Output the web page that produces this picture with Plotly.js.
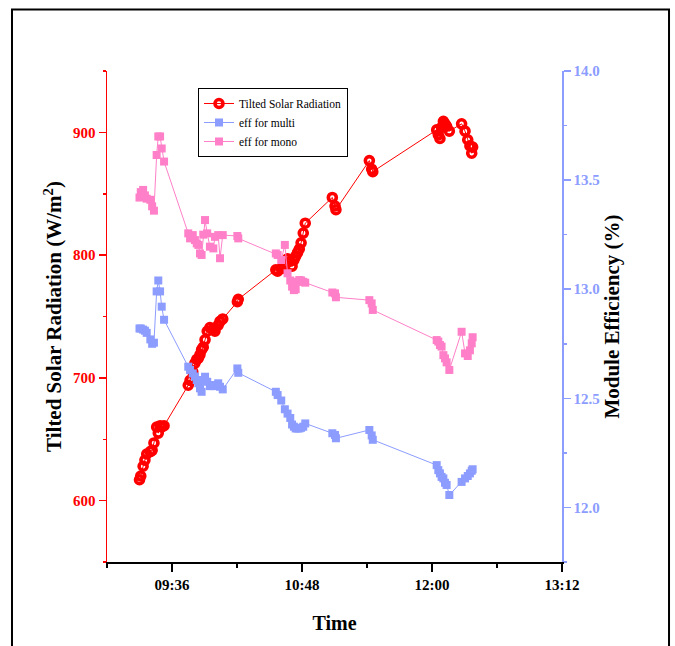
<!DOCTYPE html>
<html>
<head>
<meta charset="utf-8">
<script src="https://cdn.plot.ly/plotly-3.0.1.min.js"></script>
<style>
html,body{margin:0;padding:0;background:#fff;}
#chart{width:675px;height:646px;}
</style>
</head>
<body>
<div id="chart"></div>
<script>
// Time of each measurement (HH:MM:SS)
var times = [
  "09:18:00","09:18:42","09:20:00","09:21:00","09:22:00","09:24:00","09:25:00","09:26:00","09:27:30","09:28:24","09:29:24","09:30:18","09:31:36",
  "09:45:00","09:46:00","09:47:30","09:48:42","09:49:42","09:50:36","09:51:30","09:52:24","09:53:18","09:54:18","09:55:30","09:57:00","09:58:54","09:59:48","10:01:36","10:02:36","10:04:06",
  "10:12:12","10:12:42",
  "10:33:30","10:34:30","10:36:30","10:38:30","10:40:00","10:41:30","10:42:30","10:43:30","10:44:30","10:45:30","10:46:30","10:47:30","10:48:42","10:49:48",
  "11:04:48","11:06:18","11:06:48",
  "11:25:18","11:26:36","11:27:12",
  "12:02:36","12:03:30","12:04:24","12:05:18","12:06:18","12:07:12","12:08:06","12:09:36","12:16:24","12:18:18","12:19:48","12:21:00","12:22:00","12:22:30"
];
// Tilted solar radiation (W/m2)
var radiation = [
  617,620,628,633,638,640,641,647,660,655,661,660,661,
  694,698,705,712,715,716,719,723,725,731,738,741,740,738,743,746,748,
  762,764,
  788,787,789,792,797,795,791,796,799,802,805,810,818,826,
  847,840,837,
  877,870,868,
  902,898,895,904,909,907,905,901,907,901,894,889,883,888
];
// Module efficiency, multi-crystalline (%)
var effMulti = [
  12.82,12.82,12.815,12.81,12.80,12.77,12.75,12.755,12.99,13.04,12.99,12.92,12.86,
  12.645,12.63,12.614,12.60,12.584,12.569,12.546,12.53,12.584,12.599,12.576,12.556,12.556,12.561,12.569,12.553,12.541,
  12.637,12.617,
  12.53,12.515,12.49,12.45,12.43,12.41,12.38,12.37,12.362,12.362,12.362,12.365,12.37,12.385,
  12.34,12.332,12.317,
  12.355,12.33,12.31,
  12.194,12.171,12.156,12.14,12.133,12.113,12.103,12.057,12.117,12.133,12.144,12.156,12.168,12.175
];
// Module efficiency, mono-crystalline (%)
var effMono = [
  13.42,13.445,13.455,13.43,13.415,13.41,13.38,13.36,13.615,13.70,13.70,13.645,13.585,
  13.256,13.233,13.248,13.225,13.21,13.203,13.164,13.157,13.25,13.317,13.256,13.195,13.187,13.24,13.248,13.142,13.248,
  13.244,13.233,
  13.164,13.157,13.134,13.203,13.073,13.04,13.012,12.996,13.0,13.034,13.042,13.04,13.034,13.03,
  12.985,12.981,12.963,
  12.95,12.935,12.905,
  12.767,12.76,12.744,12.737,12.698,12.683,12.665,12.63,12.805,12.706,12.694,12.72,12.752,12.78
];
var seriesNames = ["Tilted Solar Radiation","eff for multi","eff for mono"];
var xTickStart = "09:36", xTickStepMin = 72, xMinorStepMin = 36;
var xRange = ["09:00","13:12"];
var day = "2000-01-01 ";

var RED = "#FF0000", BLUE = "#8C9CFF", PINK = "#FF80C8";
var FONT = "Liberation Serif";
var xs = times.map(function(t){return day + t;});

var traces = [
  {x: xs, y: radiation, name: seriesNames[0], type: "scatter", mode: "lines+markers",
   xaxis: "x", yaxis: "y",
   line: {color: RED, width: 1},
   marker: {symbol: "circle-open", size: 8, color: RED, line: {color: RED, width: 3.6}}},
  {x: xs, y: effMulti, name: seriesNames[1], type: "scatter", mode: "lines+markers",
   xaxis: "x", yaxis: "y2",
   line: {color: BLUE, width: 1},
   marker: {symbol: "square", size: 8, color: BLUE, line: {width: 0}}},
  {x: xs, y: effMono, name: seriesNames[2], type: "scatter", mode: "lines+markers",
   xaxis: "x", yaxis: "y2",
   line: {color: PINK, width: 1},
   marker: {symbol: "square", size: 8, color: PINK, line: {width: 0}}}
];

var minMs = 60000;
var layout = {
  width: 675, height: 646,
  margin: {l: 107, r: 113, t: 71, b: 84},
  paper_bgcolor: "#fff", plot_bgcolor: "#fff",
  showlegend: true,
  font: {family: FONT, color: "#000"},
  xaxis: {
    type: "date", range: [day + xRange[0], day + xRange[1]],
    tick0: day + xTickStart, dtick: xTickStepMin * minMs, tickformat: "%H:%M",
    ticks: "outside", ticklen: 8, tickwidth: 1.5, tickcolor: "#000",
    minor: {tick0: day + xTickStart, dtick: xMinorStepMin * minMs, ticks: "outside", ticklen: 4, tickwidth: 1.5, tickcolor: "#000", showgrid: false},
    showline: true, linecolor: "#000", linewidth: 1.5,
    showgrid: false, zeroline: false,
    tickfont: {family: FONT, size: 15, color: "#000", weight: "bold"},
    title: {text: "<b>Time</b>", font: {family: FONT, size: 20, color: "#000"}, standoff: 24}
  },
  xaxis2: {
    type: "date", range: [day + xRange[0], day + xRange[1]],
    overlaying: "x", side: "top", anchor: "y",
    tick0: day + xTickStart, dtick: xTickStepMin * minMs,
    ticks: "inside", ticklen: 6, tickwidth: 1.5, tickcolor: "#000",
    minor: {tick0: day + xTickStart, dtick: xMinorStepMin * minMs, ticks: "inside", ticklen: 6, tickwidth: 1.5, tickcolor: "#000", showgrid: false},
    showticklabels: false, showline: true, linecolor: "#000", linewidth: 1.5,
    showgrid: false, zeroline: false
  },
  yaxis: {
    range: [550, 950], tick0: 600, dtick: 100,
    ticks: "outside", ticklen: 7, tickwidth: 1.5, tickcolor: RED,
    minor: {dtick: 50, ticks: "outside", ticklen: 3, tickwidth: 1.5, tickcolor: RED, showgrid: false},
    showline: true, linecolor: RED, linewidth: 1.5,
    showgrid: false, zeroline: false,
    tickfont: {family: FONT, size: 15, color: RED, weight: "bold"},
    title: {text: "<b>Tilted Solar Radiation (W/m<sup>2</sup>)</b>", font: {family: FONT, size: 21, color: "#000"}, standoff: 5}
  },
  yaxis2: {
    range: [11.75, 14.0], tick0: 12, dtick: 0.5, tickformat: ".1f",
    overlaying: "y", side: "right", anchor: "x",
    ticks: "outside", ticklen: 7, tickwidth: 1.5, tickcolor: BLUE,
    minor: {dtick: 0.25, ticks: "outside", ticklen: 3, tickwidth: 1.5, tickcolor: BLUE, showgrid: false},
    showline: true, linecolor: BLUE, linewidth: 1.5,
    showgrid: false, zeroline: false,
    tickfont: {family: FONT, size: 15, color: BLUE, weight: "bold"},
    title: {text: "<b>Module Efficiency (%)</b>", font: {family: FONT, size: 21, color: "#000"}, standoff: 5}
  },
  legend: {
    x: 0.2, y: 0.9654, xanchor: "left", yanchor: "top",
    bgcolor: "#fff", bordercolor: "#000", borderwidth: 1,
    font: {family: FONT, size: 11.5, color: "#000"},
    tracegroupgap: 0, itemwidth: 30
  },
  shapes: [
    {type: "rect", xref: "paper", yref: "paper",
     x0: -0.2088, x1: 1.2352, y0: -0.2, y1: 1.1253,
     line: {color: "#000", width: 2}, fillcolor: "rgba(0,0,0,0)", layer: "below"}
  ]
};

Plotly.newPlot("chart", traces, layout, {staticPlot: true, displayModeBar: false});
</script>
</body>
</html>
